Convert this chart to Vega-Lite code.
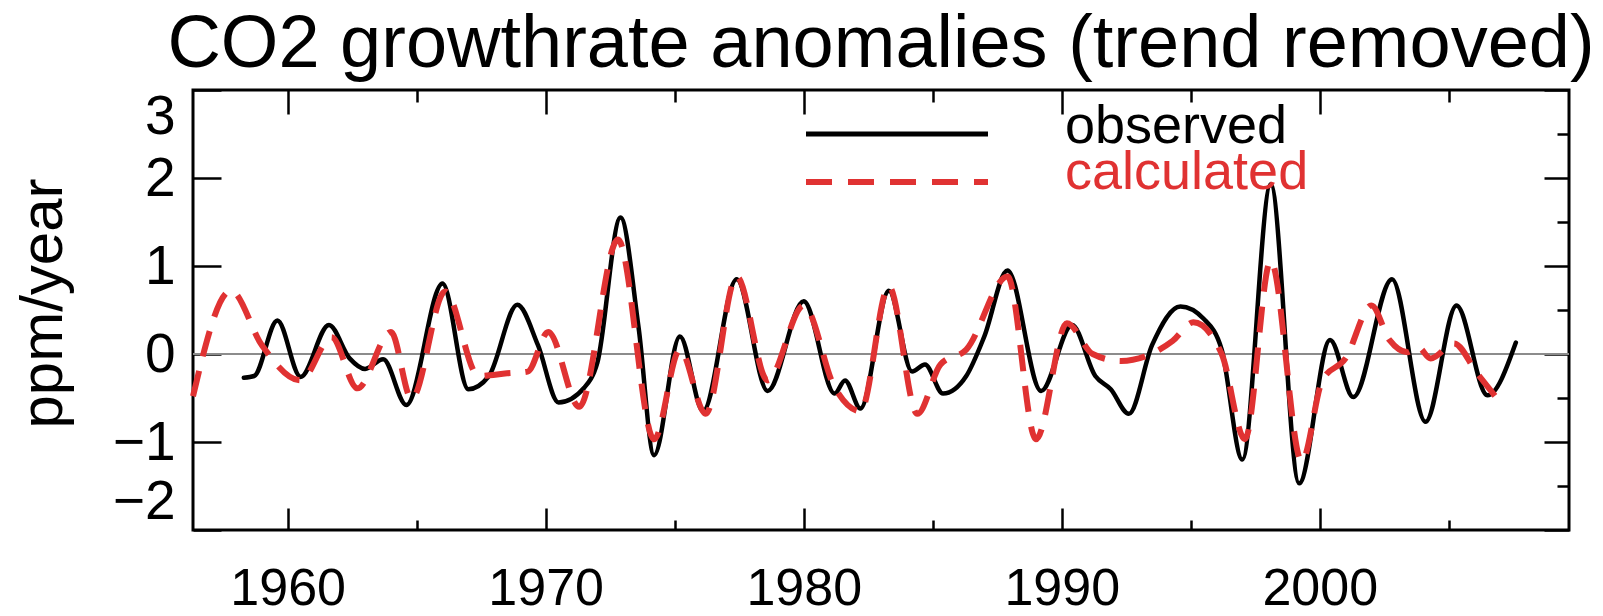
{
  "$schema": "https://vega.github.io/schema/vega-lite/v6.json",
  "width": 1376,
  "height": 440,
  "autosize": {"type": "none"},
  "padding": {"left": 193, "top": 90, "right": 34, "bottom": 86},
  "background": "white",
  "title": {
    "text": "CO2 growthrate anomalies (trend removed)",
    "font": "Liberation Sans",
    "fontSize": 74,
    "fontWeight": "normal",
    "color": "black",
    "anchor": "middle",
    "frame": "group",
    "baseline": "alphabetic",
    "offset": 25,
    "dy": 77
  },
  "datasets": {
    "curves": [
      {"series": "observed", "year": 1958.3, "value": -0.27},
      {"series": "observed", "year": 1958.7, "value": -0.25},
      {"series": "observed", "year": 1959.6, "value": 0.38},
      {"series": "observed", "year": 1960.5, "value": -0.26},
      {"series": "observed", "year": 1961.6, "value": 0.33},
      {"series": "observed", "year": 1962.4, "value": -0.05},
      {"series": "observed", "year": 1963.0, "value": -0.17},
      {"series": "observed", "year": 1963.7, "value": -0.06},
      {"series": "observed", "year": 1964.6, "value": -0.58},
      {"series": "observed", "year": 1966.0, "value": 0.8},
      {"series": "observed", "year": 1967.0, "value": -0.4},
      {"series": "observed", "year": 1967.8, "value": -0.25},
      {"series": "observed", "year": 1968.9, "value": 0.56},
      {"series": "observed", "year": 1969.7, "value": 0.1},
      {"series": "observed", "year": 1970.5, "value": -0.55},
      {"series": "observed", "year": 1971.5, "value": -0.38},
      {"series": "observed", "year": 1972.0, "value": -0.1},
      {"series": "observed", "year": 1972.9, "value": 1.55},
      {"series": "observed", "year": 1973.6, "value": 0.3},
      {"series": "observed", "year": 1974.2, "value": -1.15},
      {"series": "observed", "year": 1975.2, "value": 0.2},
      {"series": "observed", "year": 1976.1, "value": -0.65},
      {"series": "observed", "year": 1977.4, "value": 0.85},
      {"series": "observed", "year": 1978.6, "value": -0.42},
      {"series": "observed", "year": 1980.0, "value": 0.6},
      {"series": "observed", "year": 1981.2, "value": -0.45},
      {"series": "observed", "year": 1981.6, "value": -0.3},
      {"series": "observed", "year": 1982.2, "value": -0.62},
      {"series": "observed", "year": 1983.3, "value": 0.72},
      {"series": "observed", "year": 1984.2, "value": -0.2},
      {"series": "observed", "year": 1984.7, "value": -0.12},
      {"series": "observed", "year": 1985.4, "value": -0.45},
      {"series": "observed", "year": 1986.3, "value": -0.25},
      {"series": "observed", "year": 1987.0, "value": 0.2},
      {"series": "observed", "year": 1987.9, "value": 0.95},
      {"series": "observed", "year": 1989.2, "value": -0.42},
      {"series": "observed", "year": 1990.4, "value": 0.33},
      {"series": "observed", "year": 1991.3, "value": -0.25},
      {"series": "observed", "year": 1991.9, "value": -0.4},
      {"series": "observed", "year": 1992.6, "value": -0.68},
      {"series": "observed", "year": 1993.5, "value": 0.1},
      {"series": "observed", "year": 1994.6, "value": 0.54},
      {"series": "observed", "year": 1995.5, "value": 0.4},
      {"series": "observed", "year": 1996.2, "value": 0.05},
      {"series": "observed", "year": 1997.0, "value": -1.2},
      {"series": "observed", "year": 1998.1, "value": 1.93},
      {"series": "observed", "year": 1999.2, "value": -1.47},
      {"series": "observed", "year": 2000.4, "value": 0.16},
      {"series": "observed", "year": 2001.3, "value": -0.49},
      {"series": "observed", "year": 2002.8, "value": 0.85},
      {"series": "observed", "year": 2004.1, "value": -0.77},
      {"series": "observed", "year": 2005.3, "value": 0.55},
      {"series": "observed", "year": 2006.5, "value": -0.47},
      {"series": "observed", "year": 2007.6, "value": 0.13},
      {"series": "calculated", "year": 1956.33, "value": -0.48},
      {"series": "calculated", "year": 1957.8, "value": 0.72},
      {"series": "calculated", "year": 1959.0, "value": 0.1},
      {"series": "calculated", "year": 1960.5, "value": -0.3},
      {"series": "calculated", "year": 1961.7, "value": 0.19},
      {"series": "calculated", "year": 1962.7, "value": -0.39},
      {"series": "calculated", "year": 1964.0, "value": 0.25},
      {"series": "calculated", "year": 1964.8, "value": -0.51},
      {"series": "calculated", "year": 1966.1, "value": 0.71},
      {"series": "calculated", "year": 1967.4, "value": -0.25},
      {"series": "calculated", "year": 1968.5, "value": -0.22},
      {"series": "calculated", "year": 1969.3, "value": -0.2},
      {"series": "calculated", "year": 1970.1, "value": 0.25},
      {"series": "calculated", "year": 1971.3, "value": -0.6},
      {"series": "calculated", "year": 1972.8, "value": 1.3},
      {"series": "calculated", "year": 1974.2, "value": -0.97},
      {"series": "calculated", "year": 1975.2, "value": 0.05},
      {"series": "calculated", "year": 1976.2, "value": -0.68},
      {"series": "calculated", "year": 1977.4, "value": 0.88},
      {"series": "calculated", "year": 1978.6, "value": -0.3},
      {"series": "calculated", "year": 1980.0, "value": 0.55},
      {"series": "calculated", "year": 1981.2, "value": -0.38},
      {"series": "calculated", "year": 1982.2, "value": -0.65},
      {"series": "calculated", "year": 1983.3, "value": 0.77},
      {"series": "calculated", "year": 1984.4, "value": -0.68},
      {"series": "calculated", "year": 1985.3, "value": -0.12},
      {"series": "calculated", "year": 1986.3, "value": 0.05},
      {"series": "calculated", "year": 1987.9, "value": 0.88},
      {"series": "calculated", "year": 1989.0, "value": -0.97},
      {"series": "calculated", "year": 1990.2, "value": 0.35},
      {"series": "calculated", "year": 1991.2, "value": 0.0},
      {"series": "calculated", "year": 1992.3, "value": -0.08},
      {"series": "calculated", "year": 1993.3, "value": -0.02},
      {"series": "calculated", "year": 1994.3, "value": 0.15},
      {"series": "calculated", "year": 1995.1, "value": 0.36},
      {"series": "calculated", "year": 1996.2, "value": 0.0},
      {"series": "calculated", "year": 1997.1, "value": -0.97},
      {"series": "calculated", "year": 1998.1, "value": 1.06},
      {"series": "calculated", "year": 1999.3, "value": -1.22},
      {"series": "calculated", "year": 2000.1, "value": -0.3},
      {"series": "calculated", "year": 2001.0, "value": -0.05},
      {"series": "calculated", "year": 2002.0, "value": 0.55},
      {"series": "calculated", "year": 2002.7, "value": 0.16},
      {"series": "calculated", "year": 2003.4, "value": 0.02},
      {"series": "calculated", "year": 2003.8, "value": 0.08},
      {"series": "calculated", "year": 2004.3, "value": -0.05},
      {"series": "calculated", "year": 2005.2, "value": 0.12},
      {"series": "calculated", "year": 2006.1, "value": -0.22},
      {"series": "calculated", "year": 2006.8, "value": -0.48}
    ],
    "zero": [{"value": 0}]
  },
  "layer": [
    {
      "data": {"name": "zero"},
      "mark": {"type": "rule", "color": "#8c8c8c", "strokeWidth": 2},
      "encoding": {
        "y": {"field": "value", "type": "quantitative", "axis": null}
      }
    },
    {
      "data": {"name": "curves"},
      "transform": [{"filter": "datum.series === 'observed'"}],
      "mark": {"type": "line", "interpolate": "monotone", "strokeWidth": 4.5, "strokeCap": "round", "strokeJoin": "round"},
      "encoding": {
        "x": {
          "field": "year", "type": "quantitative",
          "scale": {"domain": [1956.33, 2009.66], "nice": false, "zero": false},
          "axis": {
            "orient": "bottom", "title": null, "grid": false, "domain": false,
            "values": [1960, 1965, 1970, 1975, 1980, 1985, 1990, 1995, 2000, 2005],
            "format": "d",
            "labelExpr": "datum.value % 10 === 0 ? datum.label : ''",
            "tickSize": {"condition": {"test": "datum.value % 10 === 0", "value": -22}, "value": -10},
            "tickWidth": 2.5, "tickColor": "black",
            "labelFont": "Liberation Sans", "labelFontSize": 52, "labelColor": "black",
            "labelPadding": 55, "labelOverlap": false
          }
        },
        "y": {
          "field": "value", "type": "quantitative",
          "scale": {"domain": [-2, 3], "nice": false, "zero": false},
          "axis": {
            "orient": "left", "grid": false, "domain": false,
            "values": [-2, -1.5, -1, -0.5, 0, 0.5, 1, 1.5, 2, 2.5, 3],
            "format": "d",
            "labelExpr": "datum.value % 1 === 0 ? datum.label : ''",
            "tickSize": {"condition": {"test": "datum.value % 1 === 0", "value": -28}, "value": -15},
            "tickWidth": 2.5, "tickColor": "black",
            "labelFont": "Liberation Sans", "labelFontSize": 55, "labelColor": "black",
            "labelPadding": 46, "labelFlush": true, "labelOverlap": false,
            "title": "ppm/year",
            "titleFont": "Liberation Sans", "titleFontSize": 60, "titleFontWeight": "normal", "titleColor": "black",
            "titleX": -150, "titleY": 213, "titleAngle": -90, "titleAlign": "center", "titleBaseline": "middle"
          }
        },
        "color": {
          "field": "series", "type": "nominal",
          "scale": {"domain": ["observed"], "range": ["black"]},
          "legend": {
            "orient": "none", "legendX": 677, "legendY": 17, "title": null, "padding": 0,
            "symbolType": "M-4,0L4,0", "symbolSize": 2070, "symbolStrokeWidth": 5,
            "labelFont": "Liberation Sans", "labelFontSize": 54, "labelColor": "black", "labelOffset": 141, "labelLimit": 500,
            "encode": {"labels": {"update": {"dy": {"value": -7}}}}
          }
        }
      }
    },
    {
      "data": {"name": "curves"},
      "transform": [{"filter": "datum.series === 'calculated'"}],
      "mark": {"type": "line", "interpolate": "monotone", "strokeWidth": 6, "strokeDash": [26, 15]},
      "encoding": {
        "x": {
          "field": "year", "type": "quantitative",
          "axis": {
            "orient": "top", "title": null, "grid": false, "domain": false, "labels": false,
            "values": [1960, 1965, 1970, 1975, 1980, 1985, 1990, 1995, 2000, 2005],
            "tickSize": {"condition": {"test": "datum.value % 10 === 0", "value": -24}, "value": -12},
            "tickWidth": 2.5, "tickColor": "black"
          }
        },
        "y": {
          "field": "value", "type": "quantitative",
          "axis": {
            "orient": "right", "title": null, "grid": false, "domain": false, "labels": false,
            "values": [-2, -1.5, -1, -0.5, 0, 0.5, 1, 1.5, 2, 2.5, 3],
            "tickSize": {"condition": {"test": "datum.value % 1 === 0", "value": -25}, "value": -12},
            "tickWidth": 2.5, "tickColor": "black"
          }
        },
        "color": {
          "field": "series", "type": "nominal",
          "scale": {"domain": ["calculated"], "range": ["#e03232"]},
          "legend": {
            "orient": "none", "legendX": 677, "legendY": 65, "title": null, "padding": 0,
            "symbolType": "M-4,0L4,0", "symbolSize": 2070, "symbolStrokeWidth": 6, "symbolDash": [26, 16],
            "labelFont": "Liberation Sans", "labelFontSize": 54, "labelColor": "#e03232", "labelOffset": 141, "labelLimit": 500,
            "encode": {"labels": {"update": {"dy": {"value": -9}}}}
          }
        }
      }
    }
  ],
  "resolve": {
    "axis": {"x": "independent", "y": "independent"},
    "scale": {"color": "independent"}
  },
  "config": {
    "view": {"stroke": "black", "strokeWidth": 3},
    "axis": {"grid": false}
  }
}
